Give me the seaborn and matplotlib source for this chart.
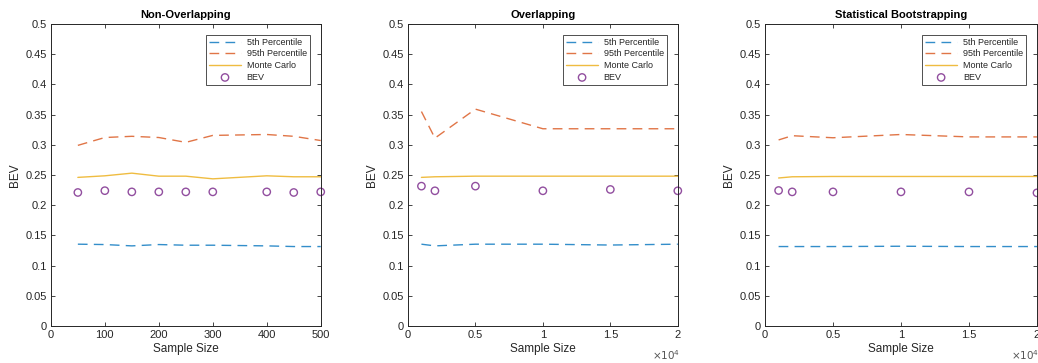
import matplotlib
matplotlib.use("Agg")
import matplotlib.pyplot as plt
from matplotlib.ticker import FixedLocator, FuncFormatter
import seaborn as sns
import pandas as pd

# Non-overlapping windows
nonoverlap_n = [50, 100, 150, 200, 250, 300, 400, 450, 500]
nonoverlap_p5 = [0.1354, 0.1348, 0.1326, 0.1348, 0.1337, 0.1337, 0.1326, 0.1315, 0.1315]
nonoverlap_p95 = [0.299, 0.312, 0.314, 0.312, 0.304, 0.3155, 0.317, 0.314, 0.307]
nonoverlap_mc = [0.246, 0.2486, 0.253, 0.248, 0.248, 0.2436, 0.2486, 0.247, 0.247]
nonoverlap_bev = [0.221, 0.224, 0.222, 0.222, 0.222, 0.222, 0.222, 0.221, 0.222]

# Overlapping windows
overlap_n = [1000, 2000, 5000, 10000, 15000, 20000]
overlap_p5 = [0.1354, 0.1326, 0.1354, 0.1354, 0.1340, 0.1354]
overlap_p95 = [0.355, 0.311, 0.359, 0.3265, 0.3265, 0.3265]
overlap_mc = [0.246, 0.247, 0.248, 0.248, 0.248, 0.248]
overlap_bev = [0.2315, 0.2238, 0.2315, 0.2238, 0.226, 0.2238]

# Statistical bootstrapping
boot_n = [1000, 2000, 5000, 10000, 15000, 20000]
boot_p5 = [0.1315, 0.1315, 0.1315, 0.132, 0.1315, 0.1315]
boot_p95 = [0.308, 0.315, 0.3116, 0.317, 0.313, 0.313]
boot_mc = [0.245, 0.247, 0.2475, 0.2475, 0.2475, 0.2475]
boot_bev = [0.2243, 0.222, 0.222, 0.222, 0.222, 0.2204]

titles = ["Non-Overlapping", "Overlapping", "Statistical Bootstrapping"]
series_labels = ["5th Percentile", "95th Percentile", "Monte Carlo", "BEV"]
y_ticks = [0, 0.05, 0.1, 0.15, 0.2, 0.25, 0.3, 0.35, 0.4, 0.45, 0.5]
x_ticks_small = [0, 100, 200, 300, 400, 500]
x_ticks_large = [0, 5000, 10000, 15000, 20000]
x_ticklabels_large = ["0", "0.5", "1", "1.5", "2"]

sns.set_theme(style="white")
plt.rcParams["font.family"] = ["Liberation Sans", "DejaVu Sans"]

c_blue = "#0072BD"
c_orange = "#D95319"
c_yellow = "#EDB120"
c_purple = "#7E2F8E"
ink = "#262626"

fig = plt.figure(figsize=(10.38, 3.63), dpi=100)
ax_boxes = [
    [0.049, 0.102, 0.260, 0.832],
    [0.393, 0.102, 0.260, 0.832],
    [0.737, 0.102, 0.262, 0.832],
]

panels = [
    (nonoverlap_n, nonoverlap_p5, nonoverlap_p95, nonoverlap_mc, nonoverlap_bev, 500),
    (overlap_n, overlap_p5, overlap_p95, overlap_mc, overlap_bev, 20000),
    (boot_n, boot_p5, boot_p95, boot_mc, boot_bev, 20000),
]

dash = (0, (7, 4.5))

for i, (box, (n, p5, p95, mc, bev, xmax)) in enumerate(zip(ax_boxes, panels)):
    ax = fig.add_axes(box)
    df = pd.DataFrame({"n": n, "p5": p5, "p95": p95, "mc": mc, "bev": bev})
    sns.lineplot(data=df, x="n", y="p5", ax=ax, color=c_blue, lw=1.0,
                 linestyle=dash, sort=False, label=series_labels[0], alpha=0.8)
    sns.lineplot(data=df, x="n", y="p95", ax=ax, color=c_orange, lw=1.0,
                 linestyle=dash, sort=False, label=series_labels[1], alpha=0.8)
    sns.lineplot(data=df, x="n", y="mc", ax=ax, color=c_yellow, lw=1.0,
                 sort=False, label=series_labels[2], alpha=0.85)
    sns.scatterplot(data=df, x="n", y="bev", ax=ax, marker="o", s=28,
                    facecolors="none", edgecolor=c_purple, linewidth=1.0,
                    label=series_labels[3], clip_on=False, alpha=0.85)

    ax.set_xlim(0, xmax)
    ax.set_ylim(0, 0.5)
    ax.yaxis.set_major_locator(FixedLocator(y_ticks))
    ax.yaxis.set_major_formatter(FuncFormatter(lambda v, p: f"{v:g}"))
    if i == 0:
        ax.xaxis.set_major_locator(FixedLocator(x_ticks_small))
        ax.xaxis.set_major_formatter(FuncFormatter(lambda v, p: f"{v:g}"))
    else:
        ax.xaxis.set_major_locator(FixedLocator(x_ticks_large))
        ax.set_xticklabels(x_ticklabels_large)
        ax.text(1.01, -0.072, r"$\times10^{4}$", transform=ax.transAxes,
                ha="right", va="top", fontsize=7.5, color="#555555")

    ax.tick_params(axis="both", which="both", direction="in", length=3,
                   width=0.6, labelsize=8, colors=ink, top=True, right=True,
                   bottom=True, left=True, pad=3)
    for sp in ax.spines.values():
        sp.set_visible(True)
        sp.set_color(ink)
        sp.set_linewidth(0.7)

    ax.set_title(titles[i], fontsize=8, fontweight="bold", color="black", pad=4)
    ax.set_xlabel("Sample Size", fontsize=8.5, color=ink, labelpad=2)
    ax.set_ylabel("BEV", fontsize=8.5, color=ink, labelpad=3)

    leg = ax.legend(loc="upper right", bbox_to_anchor=(0.96, 0.965),
                    fontsize=6.5, frameon=True, fancybox=False,
                    handlelength=3.6, handletextpad=0.6, labelspacing=0.3,
                    borderpad=0.35, borderaxespad=0.0)
    leg.get_frame().set_edgecolor("black")
    leg.get_frame().set_linewidth(0.6)
    for t in leg.get_texts():
        t.set_color(ink)

fig.savefig("out.png", dpi=100)
